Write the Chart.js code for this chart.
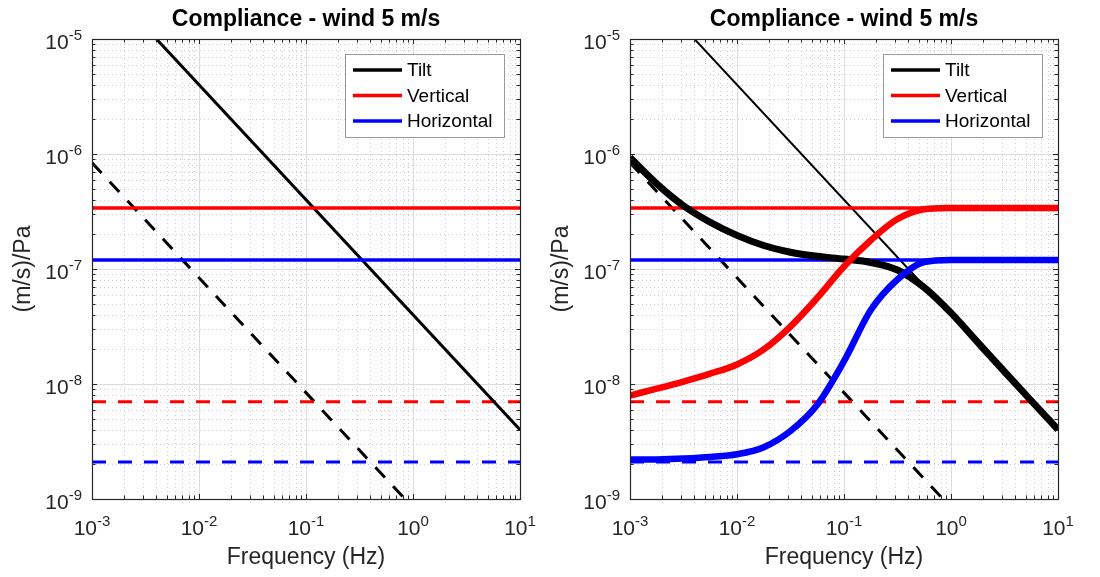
<!DOCTYPE html>
<html><head><meta charset="utf-8">
<script src="https://cdn.jsdelivr.net/npm/chart.js@4.4.1/dist/chart.umd.min.js"></script>
<style>
html,body{margin:0;padding:0;background:#fff;width:1100px;height:577px;overflow:hidden}
canvas{position:absolute;top:0}
#c1{left:0}
#c2{left:538px}
</style></head><body>
<canvas id="c1" width="550" height="577"></canvas>
<canvas id="c2" width="550" height="577"></canvas>
<script>
// ---- texts ----
const titleText = 'Compliance - wind 5 m/s';
const xTitle = 'Frequency (Hz)';
const yTitle = '(m/s)/Pa';
const legendLabels = ['Tilt', 'Vertical', 'Horizontal'];
const legendColors = ['#000000', '#ff0000', '#0000ff'];

// ---- ticks ----
const xTickValues = [1e-3, 1e-2, 1e-1, 1, 10];
const xTickExps = ['-3', '-2', '-1', '0', '1'];
const yTickValues = [1e-9, 1e-8, 1e-7, 1e-6, 1e-5];
const yTickExps = ['-9', '-8', '-7', '-6', '-5'];
const minorMultiples = [2, 3, 4, 5, 6, 7, 8, 9];

// ---- straight reference lines (two end points each) ----
const lineFreq = [0.001, 10];
const tiltSolid = [4e-5, 4e-9];
const tiltDashed = [8.4e-7, 8.4e-11];
const vertSolid = [3.4e-7, 3.4e-7];
const vertDashed = [7e-9, 7e-9];
const horizSolid = [1.2e-7, 1.2e-7];
const horizDashed = [2.1e-9, 2.1e-9];

// ---- combined curves (right panel) ----
const curveFreq = [0.001, 0.00178, 0.00316, 0.00562, 0.01, 0.0178, 0.0316, 0.0562, 0.1, 0.178, 0.316, 0.562, 1, 1.78, 3.16, 5.62, 10];
const tiltTotal = [9.3e-7, 5.5e-7, 3.55e-7, 2.55e-7, 1.96e-7, 1.6e-7, 1.4e-7, 1.29e-7, 1.22e-7, 1.14e-7, 9.8e-8, 6.9e-8, 4.15e-8, 2.3e-8, 1.28e-8, 7.15e-9, 4.02e-9];
const vertTotal = [7.94e-9, 9.1e-9, 1.05e-8, 1.23e-8, 1.48e-8, 2.0e-8, 3.16e-8, 5.6e-8, 1.05e-7, 1.78e-7, 2.72e-7, 3.31e-7, 3.39e-7, 3.4e-7, 3.4e-7, 3.4e-7, 3.4e-7];
const horizTotal = [2.2e-9, 2.21e-9, 2.25e-9, 2.32e-9, 2.45e-9, 2.82e-9, 3.9e-9, 6.6e-9, 1.58e-8, 4.4e-8, 8.1e-8, 1.15e-7, 1.2e-7, 1.2e-7, 1.2e-7, 1.2e-7, 1.2e-7];

const FONT = '"Liberation Sans", Arial, Helvetica, sans-serif';
const AXIS_COLOR = '#262626';

function pts(xs, ys) { return xs.map((x, i) => ({ x: x, y: ys[i] })); }

function ds(xs, ys, color, width, dash, smooth) {
  return {
    data: pts(xs, ys), borderColor: color, backgroundColor: color,
    borderWidth: width, borderDash: dash || [], fill: false,
    pointRadius: 0, clip: 0, borderJoinStyle: 'round',
    cubicInterpolationMode: smooth ? 'monotone' : 'default', tension: 0
  };
}

function drawPow(ctx, exp, x, baseline, align) {
  const big = '21px ' + FONT, small = '15px ' + FONT;
  ctx.font = big; const w1 = ctx.measureText('10').width;
  ctx.font = small; const w2 = ctx.measureText(exp).width;
  const total = w1 + w2;
  const x0 = align === 'right' ? x - total : x - total / 2;
  ctx.textAlign = 'left'; ctx.textBaseline = 'alphabetic';
  ctx.font = big; ctx.fillText('10', x0, baseline);
  ctx.font = small; ctx.fillText(exp, x0 + w1, baseline - 9);
}

function minorValues(ticks) {
  const out = [];
  for (let i = 0; i < ticks.length - 1; i++) minorMultiples.forEach(m => out.push(ticks[i] * m));
  return out;
}

const framePlugin = {
  id: 'frame',
  beforeDatasetsDraw(chart) {
    const { ctx, chartArea: a, scales: { x, y } } = chart;
    ctx.save();
    ctx.lineWidth = 1;
    ctx.strokeStyle = '#cdcdcd';
    ctx.setLineDash([1, 3]);
    minorValues(xTickValues).forEach(v => {
      const px = Math.round(x.getPixelForValue(v)) + 0.5;
      ctx.beginPath(); ctx.moveTo(px, a.top); ctx.lineTo(px, a.bottom); ctx.stroke();
    });
    minorValues(yTickValues).forEach(v => {
      const py = Math.round(y.getPixelForValue(v)) + 0.5;
      ctx.beginPath(); ctx.moveTo(a.left, py); ctx.lineTo(a.right, py); ctx.stroke();
    });
    ctx.setLineDash([]);
    ctx.strokeStyle = '#dcdcdc';
    xTickValues.forEach(v => {
      const px = Math.round(x.getPixelForValue(v)) + 0.5;
      ctx.beginPath(); ctx.moveTo(px, a.top); ctx.lineTo(px, a.bottom); ctx.stroke();
    });
    yTickValues.forEach(v => {
      const py = Math.round(y.getPixelForValue(v)) + 0.5;
      ctx.beginPath(); ctx.moveTo(a.left, py); ctx.lineTo(a.right, py); ctx.stroke();
    });
    ctx.restore();
  },
  afterDatasetsDraw(chart) {
    const { ctx, chartArea: a, scales: { x, y } } = chart;
    ctx.save();
    ctx.strokeStyle = AXIS_COLOR; ctx.lineWidth = 1;
    const tick = (v, len, axis) => {
      if (axis === 'x') {
        const px = Math.round(x.getPixelForValue(v)) + 0.5;
        ctx.beginPath(); ctx.moveTo(px, a.bottom); ctx.lineTo(px, a.bottom - len);
        ctx.moveTo(px, a.top); ctx.lineTo(px, a.top + len); ctx.stroke();
      } else {
        const py = Math.round(y.getPixelForValue(v)) + 0.5;
        ctx.beginPath(); ctx.moveTo(a.left, py); ctx.lineTo(a.left + len, py);
        ctx.moveTo(a.right, py); ctx.lineTo(a.right - len, py); ctx.stroke();
      }
    };
    minorValues(xTickValues).forEach(v => tick(v, 3.5, 'x'));
    minorValues(yTickValues).forEach(v => tick(v, 3.5, 'y'));
    xTickValues.forEach(v => tick(v, 5, 'x'));
    yTickValues.forEach(v => tick(v, 5, 'y'));
    ctx.lineWidth = 1.2;
    ctx.strokeRect(Math.round(a.left) + 0.5, Math.round(a.top) + 0.5, Math.round(a.right - a.left), Math.round(a.bottom - a.top));
    // title
    ctx.fillStyle = '#000000';
    ctx.font = 'bold 23px ' + FONT;
    ctx.textAlign = 'center'; ctx.textBaseline = 'alphabetic';
    ctx.fillText(titleText, (a.left + a.right) / 2, 26);
    // tick labels
    ctx.fillStyle = AXIS_COLOR;
    xTickValues.forEach((v, i) => drawPow(ctx, xTickExps[i], x.getPixelForValue(v), a.bottom + 36, 'center'));
    yTickValues.forEach((v, i) => drawPow(ctx, yTickExps[i], a.left - 10, y.getPixelForValue(v) + 10, 'right'));
    // axis titles
    ctx.font = '23px ' + FONT;
    ctx.textAlign = 'center'; ctx.textBaseline = 'alphabetic';
    ctx.fillText(xTitle, (a.left + a.right) / 2, a.bottom + 65);
    ctx.save();
    ctx.translate(a.left - 62, (a.top + a.bottom) / 2);
    ctx.rotate(-Math.PI / 2);
    ctx.fillText(yTitle, 0, 0);
    ctx.restore();
    // legend
    const bx = a.right - 175, by = a.top + 15, bw = 159, bh = 83;
    ctx.fillStyle = '#ffffff';
    ctx.fillRect(bx, by, bw, bh);
    ctx.strokeStyle = '#9a9a9a'; ctx.lineWidth = 1;
    ctx.strokeRect(bx + 0.5, by + 0.5, bw, bh);
    ctx.font = '19px ' + FONT;
    ctx.textAlign = 'left'; ctx.textBaseline = 'middle';
    legendLabels.forEach((lab, i) => {
      const ry = by + 16 + i * 25.5;
      ctx.strokeStyle = legendColors[i]; ctx.lineWidth = 3.5;
      ctx.beginPath(); ctx.moveTo(bx + 8, ry); ctx.lineTo(bx + 57, ry); ctx.stroke();
      ctx.fillStyle = '#000000';
      ctx.fillText(lab, bx + 62, ry + 1);
    });
    ctx.restore();
  }
};

function makeChart(id, datasets) {
  return new Chart(document.getElementById(id), {
    type: 'line',
    data: { datasets: datasets },
    options: {
      responsive: false, animation: false, devicePixelRatio: 1,
      layout: { padding: { left: 0, right: 30, top: 39, bottom: 0 } },
      plugins: { legend: { display: false }, tooltip: { enabled: false }, title: { display: false } },
      scales: {
        x: { type: 'logarithmic', min: 1e-3, max: 10, grid: { display: false }, border: { display: false }, ticks: { display: false }, afterFit(s) { s.height = 78; } },
        y: { type: 'logarithmic', min: 1e-9, max: 1e-5, grid: { display: false }, border: { display: false }, ticks: { display: false }, afterFit(s) { s.width = 92; } }
      }
    },
    plugins: [framePlugin]
  });
}

// first dataset is drawn on top
makeChart('c1', [
  ds(lineFreq, horizSolid, '#0000ff', 3.5),
  ds(lineFreq, vertSolid, '#ff0000', 3.5),
  ds(lineFreq, tiltSolid, '#000000', 3),
  ds(lineFreq, horizDashed, '#0000ff', 3, [14, 12]),
  ds(lineFreq, vertDashed, '#ff0000', 3, [14, 12]),
  ds(lineFreq, tiltDashed, '#000000', 3, [14, 12])
]);

makeChart('c2', [
  ds(curveFreq, horizTotal, '#0000ff', 6.5, null, true),
  ds(curveFreq, vertTotal, '#ff0000', 6.5, null, true),
  ds(curveFreq, tiltTotal, '#000000', 7, null, true),
  ds(lineFreq, horizSolid, '#0000ff', 3.5),
  ds(lineFreq, vertSolid, '#ff0000', 3.5),
  ds(lineFreq, tiltSolid, '#000000', 2),
  ds(lineFreq, horizDashed, '#0000ff', 3, [14, 12]),
  ds(lineFreq, vertDashed, '#ff0000', 3, [14, 12]),
  ds(lineFreq, tiltDashed, '#000000', 3, [14, 12])
]);
</script>
</body></html>
